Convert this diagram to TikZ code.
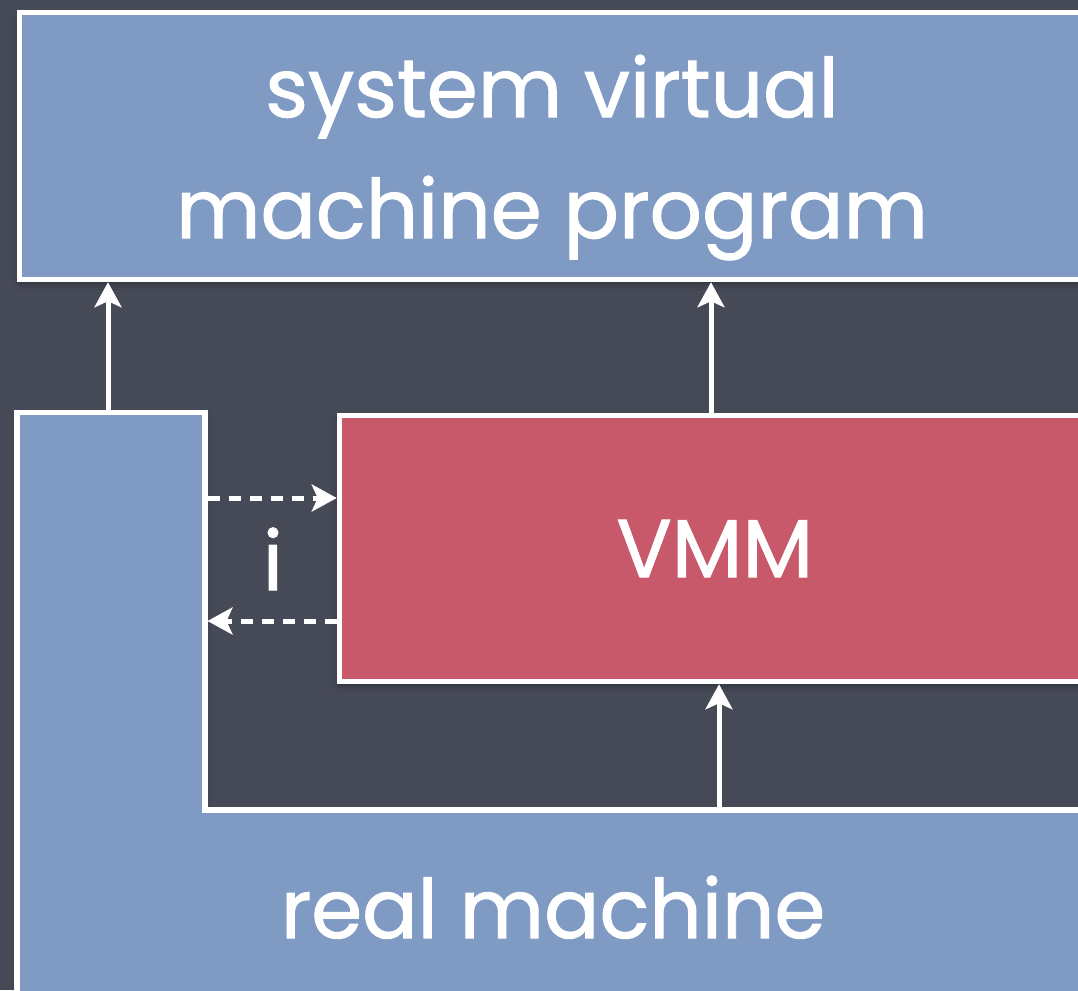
\documentclass[tikz,border=0pt]{standalone}
\usepackage{fontspec}
\setmainfont{Poppins}[FakeBold=1.2]
\usetikzlibrary{arrows.meta,shadows.blur}

\definecolor{board}{HTML}{464A57}
\definecolor{slateblue}{HTML}{7F9BC3}
\definecolor{vmmred}{HTML}{C8596A}

\tikzset{
  softshadow/.style={blur shadow={shadow xshift=0pt, shadow yshift=-4pt,
      shadow opacity=35, shadow blur radius=6pt}},
  panel/.style={draw=white, line width=5.5pt, fill=slateblue, softshadow},
  vmmbox/.style={draw=white, line width=5.5pt, fill=vmmred, softshadow},
  flow/.style={draw=white, line width=5pt,
      -{Stealth[length=25pt,width=27pt,inset=6pt]}},
  trap/.style={flow, dash pattern=on 12pt off 9pt},
  chalk/.style={text=white, font=\fontsize{82}{121}\selectfont,
      inner sep=0pt, align=center},
}

\begin{document}
\begin{tikzpicture}[x=1pt, y=-1pt]
  \useasboundingbox (0,0) rectangle (1078,990);
  \fill[board] (0,0) rectangle (1078,990);
  \clip (0,0) rectangle (1078,990);

  % guest program layer
  \node[panel, minimum width=1071pt, minimum height=267pt]
    (vmprog) at (555,146) {};
  \node[chalk] (vmprogtext) at (552,157.5) {system virtual\\machine program};

  % real machine: L-shaped layer under the monitor
  \path[panel] (17,412.5) -- (205,412.5) -- (205,810) -- (1095,810)
     -- (1095,1000) -- (17,1000) -- cycle;
  \node[chalk, anchor=base] (rmtext) at (553,938) {real machine};

  % virtual machine monitor
  \node[vmmbox, chalk, minimum width=750.5pt, minimum height=266pt]
    (vmm) at (714.75,548.5) {VMM};

  % anchor points on the real machine outline
  \coordinate (rmA) at (108,412.5);
  \coordinate (rmB) at (719,810);
  \coordinate (up2) at (711,0);
  \coordinate (t1) at (207.5,498);
  \coordinate (t2) at (207.5,621);

  % solid interfaces
  \draw[flow] (rmA) -- (rmA |- vmprog.south);
  \draw[flow] (up2 |- vmm.north) -- (up2 |- vmprog.south);
  \draw[flow] (rmB) -- (rmB |- vmm.south);

  % trap in / return out
  \draw[trap] (t1) -- (t1 -| vmm.west);
  \draw[trap] (t2 -| vmm.west) -- (t2);
  \node[chalk, anchor=base] (trapi) at (273,590) {i};
\end{tikzpicture}
\end{document}
